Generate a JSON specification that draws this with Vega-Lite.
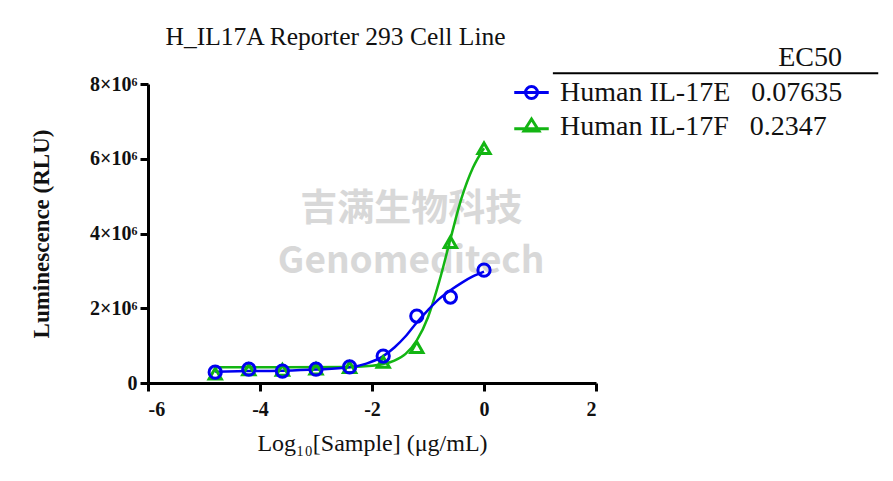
{
  "$schema": "https://vega.github.io/schema/vega-lite/v6.json",
  "autosize": {"type": "none"},
  "width": 448,
  "height": 299,
  "padding": {"left": 148, "top": 84, "right": 297, "bottom": 98},
  "background": "white",
  "config": {
    "view": {"stroke": null},
    "font": "Liberation Serif",
    "legend": {
      "titleFont": "Liberation Serif", "titleFontSize": 28, "titleFontWeight": "normal", "titleColor": "#111", "titlePadding": 4,
      "labelFont": "Liberation Serif", "labelFontSize": 28, "labelFontWeight": "normal", "labelColor": "#111", "labelOffset": 12, "labelLimit": 500,
      "symbolSize": 900, "symbolStrokeWidth": 3, "symbolOpacity": 1, "rowPadding": 3
    }
  },
  "title": {"text": "H_IL17A Reporter 293 Cell Line", "anchor": "start", "dx": 135, "offset": -6, "fontSize": 25.5, "fontWeight": "normal", "font": "Liberation Serif", "color": "#111"},
  "resolve": {"scale": {"shape": "independent", "color": "independent"}},
  "datasets": {
    "points": [
      {"series": "Human IL-17F", "x": -4.8, "y": 250000},
      {"series": "Human IL-17F", "x": -4.2, "y": 360000},
      {"series": "Human IL-17F", "x": -3.6, "y": 350000},
      {"series": "Human IL-17F", "x": -3.0, "y": 380000},
      {"series": "Human IL-17F", "x": -2.4, "y": 420000},
      {"series": "Human IL-17F", "x": -1.8, "y": 560000},
      {"series": "Human IL-17F", "x": -1.2, "y": 960000},
      {"series": "Human IL-17F", "x": -0.6, "y": 3770000},
      {"series": "Human IL-17F", "x": 0.0, "y": 6280000},
      {"series": "Human IL-17E", "x": -4.8, "y": 290000},
      {"series": "Human IL-17E", "x": -4.2, "y": 370000},
      {"series": "Human IL-17E", "x": -3.6, "y": 320000},
      {"series": "Human IL-17E", "x": -3.0, "y": 370000},
      {"series": "Human IL-17E", "x": -2.4, "y": 430000},
      {"series": "Human IL-17E", "x": -1.8, "y": 720000},
      {"series": "Human IL-17E", "x": -1.2, "y": 1790000},
      {"series": "Human IL-17E", "x": -0.6, "y": 2300000},
      {"series": "Human IL-17E", "x": 0.0, "y": 3020000}
    ],
    "curves": [
      {"series": "Human IL-17F", "x": -4.8, "y": 420000},
      {"series": "Human IL-17F", "x": -3.6, "y": 420000},
      {"series": "Human IL-17F", "x": -2.4, "y": 430000},
      {"series": "Human IL-17F", "x": -2.0, "y": 460000},
      {"series": "Human IL-17F", "x": -1.8, "y": 510000},
      {"series": "Human IL-17F", "x": -1.6, "y": 600000},
      {"series": "Human IL-17F", "x": -1.4, "y": 780000},
      {"series": "Human IL-17F", "x": -1.2, "y": 1140000},
      {"series": "Human IL-17F", "x": -1.0, "y": 1760000},
      {"series": "Human IL-17F", "x": -0.8, "y": 2710000},
      {"series": "Human IL-17F", "x": -0.6, "y": 3850000},
      {"series": "Human IL-17F", "x": -0.4, "y": 4950000},
      {"series": "Human IL-17F", "x": -0.2, "y": 5750000},
      {"series": "Human IL-17F", "x": 0.0, "y": 6280000},
      {"series": "Human IL-17E", "x": -4.8, "y": 300000},
      {"series": "Human IL-17E", "x": -4.2, "y": 320000},
      {"series": "Human IL-17E", "x": -3.6, "y": 330000},
      {"series": "Human IL-17E", "x": -3.0, "y": 360000},
      {"series": "Human IL-17E", "x": -2.4, "y": 420000},
      {"series": "Human IL-17E", "x": -2.1, "y": 520000},
      {"series": "Human IL-17E", "x": -1.8, "y": 720000},
      {"series": "Human IL-17E", "x": -1.6, "y": 950000},
      {"series": "Human IL-17E", "x": -1.4, "y": 1250000},
      {"series": "Human IL-17E", "x": -1.2, "y": 1620000},
      {"series": "Human IL-17E", "x": -1.0, "y": 1950000},
      {"series": "Human IL-17E", "x": -0.8, "y": 2250000},
      {"series": "Human IL-17E", "x": -0.6, "y": 2480000},
      {"series": "Human IL-17E", "x": -0.4, "y": 2680000},
      {"series": "Human IL-17E", "x": -0.2, "y": 2850000},
      {"series": "Human IL-17E", "x": 0.0, "y": 2980000}
    ],
    "watermark": [
      {"label": "吉满生物科技", "x": -1.3, "y": 4630000},
      {"label": "Genomeditech", "x": -1.3, "y": 3240000}
    ],
    "legendrule": [
      {"x": 1.23, "x2": 7.04, "y": 8290000}
    ]
  },
  "layer": [
    {
      "data": {"name": "watermark"},
      "mark": {"type": "text", "font": "Noto Sans CJK SC", "fontWeight": "bold", "color": "#cfcfcf", "opacity": 0.8, "fontSize": 37},
      "encoding": {
        "x": {"field": "x", "type": "quantitative", "scale": {"domain": [-6, 2]}},
        "y": {"field": "y", "type": "quantitative", "scale": {"domain": [0, 8000000]}},
        "text": {"field": "label"}
      }
    },
    {
      "data": {"name": "legendrule"},
      "mark": {"type": "rule", "color": "black", "strokeWidth": 2, "clip": false},
      "encoding": {
        "x": {"field": "x", "type": "quantitative"},
        "x2": {"field": "x2"},
        "y": {"field": "y", "type": "quantitative"}
      }
    },
    {
      "data": {"name": "curves"},
      "mark": {"type": "line", "interpolate": "monotone", "strokeWidth": 2.5},
      "encoding": {
        "x": {"field": "x", "type": "quantitative"},
        "y": {"field": "y", "type": "quantitative"},
        "color": {"field": "series", "type": "nominal", "scale": {"domain": ["Human IL-17E", "Human IL-17F"], "range": ["#0000f0", "#13b513"]}, "legend": null},
        "detail": {"field": "series"}
      }
    },
    {
      "data": {"name": "points"},
      "transform": [{"filter": "datum.x > 100"}],
      "mark": {"type": "point", "filled": false, "strokeWidth": 3, "opacity": 1},
      "encoding": {
        "x": {"field": "x", "type": "quantitative"},
        "y": {"field": "y", "type": "quantitative"},
        "color": {"field": "series", "type": "nominal", "scale": {"domain": ["Human IL-17E", "Human IL-17F"], "range": ["#0000f0", "#13b513"]},
          "legend": {
            "title": "EC50", "orient": "none", "legendX": 367, "legendY": -40, "titleAnchor": "end",
            "labelExpr": "datum.label == 'Human IL-17E' ? 'Human IL-17E\u00a0\u00a0\u00a00.07635' : 'Human IL-17F\u00a0\u00a0\u00a00.2347'"
          }
        },
        "shape": {"field": "series", "type": "nominal",
          "scale": {"domain": ["Human IL-17E", "Human IL-17F"], "range": ["M-1.15,0L1.15,0M-0.4,0A0.4,0.4 0 1,0 0.4,0A0.4,0.4 0 1,0 -0.4,0Z", "M-1.15,0.15L1.15,0.15M0,-0.5L0.5,0.3L-0.5,0.3Z"]},
          "legend": {
            "title": "EC50", "orient": "none", "legendX": 367, "legendY": -40, "titleAnchor": "end",
            "labelExpr": "datum.label == 'Human IL-17E' ? 'Human IL-17E\u00a0\u00a0\u00a00.07635' : 'Human IL-17F\u00a0\u00a0\u00a00.2347'"
          }
        }
      }
    },
    {
      "data": {"name": "points"},
      "mark": {"type": "point", "filled": false, "strokeWidth": 3, "size": 150, "opacity": 1},
      "encoding": {
        "x": {
          "field": "x", "type": "quantitative",
          "scale": {"domain": [-6, 2], "nice": false, "zero": false},
          "axis": {
            "values": [-6, -4, -2, 0, 2],
            "labelExpr": "toString(datum.value)",
            "title": "Log₁₀[Sample] (μg/mL)",
            "titleFont": "Liberation Serif", "titleFontSize": 24, "titleFontWeight": "normal", "titleColor": "#111", "titlePadding": 12,
            "labelFont": "Liberation Serif", "labelFontSize": 20, "labelFontWeight": "bold", "labelColor": "#111", "labelPadding": 8,
            "domainColor": "black", "domainWidth": 3, "tickColor": "black", "tickWidth": 3, "tickSize": 8, "grid": false
          }
        },
        "y": {
          "field": "y", "type": "quantitative",
          "scale": {"domain": [0, 8000000], "nice": false},
          "axis": {
            "values": [0, 2000000, 4000000, 6000000, 8000000],
            "labelExpr": "datum.value == 0 ? '0' : (datum.value / 1000000) + '×10⁶'",
            "title": "Luminescence (RLU)",
            "titleFont": "Liberation Serif", "titleFontSize": 23, "titleFontWeight": "bold", "titleColor": "#111", "titlePadding": 36,
            "labelFont": "Liberation Serif", "labelFontSize": 20, "labelFontWeight": "bold", "labelColor": "#111", "labelPadding": 3,
            "domainColor": "black", "domainWidth": 3, "tickColor": "black", "tickWidth": 3, "tickSize": 8, "grid": false
          }
        },
        "color": {"field": "series", "type": "nominal", "scale": {"domain": ["Human IL-17E", "Human IL-17F"], "range": ["#0000f0", "#13b513"]}, "legend": null},
        "shape": {"field": "series", "type": "nominal", "scale": {"domain": ["Human IL-17E", "Human IL-17F"], "range": ["circle", "triangle-up"]}, "legend": null}
      }
    }
  ]
}
